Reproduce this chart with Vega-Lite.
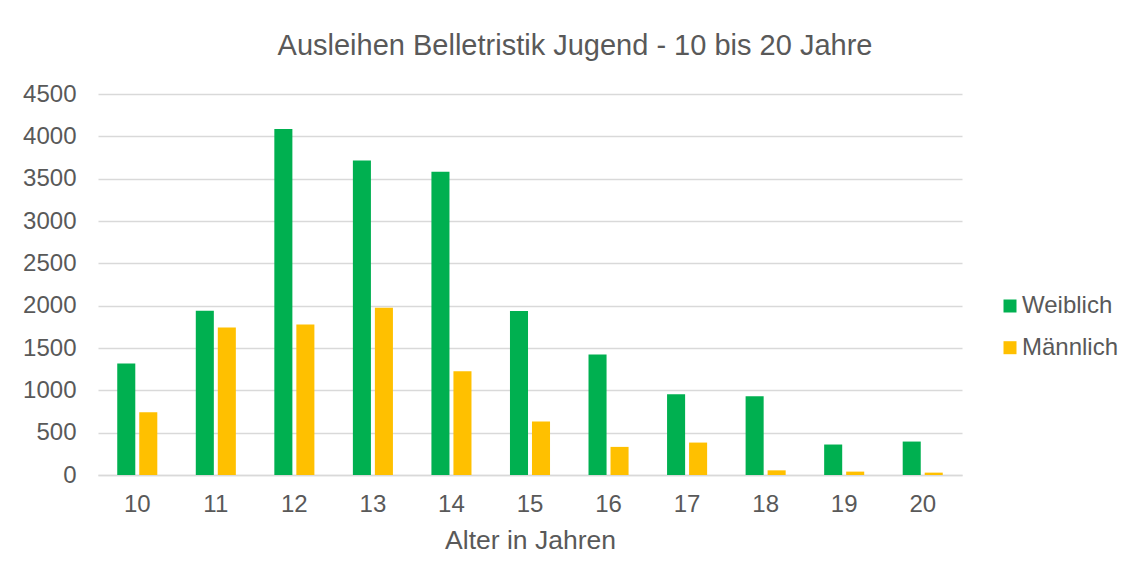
{
  "$schema": "https://vega.github.io/schema/vega-lite/v6.json",
  "autosize": {"type": "none"},
  "padding": {"left": 98, "top": 94, "right": 170, "bottom": 109},
  "width": 864,
  "height": 381,
  "background": "white",
  "title": {
    "text": "Ausleihen Belletristik Jugend - 10 bis 20 Jahre",
    "anchor": "middle",
    "frame": "group",
    "dx": 45,
    "fontSize": 29,
    "fontWeight": "normal",
    "font": "Liberation Sans",
    "color": "#595959",
    "baseline": "alphabetic",
    "offset": -2
  },
  "data": {
    "values": [
      {"Alter": "10", "Geschlecht": "Weiblich", "Ausleihen": 1316},
      {"Alter": "10", "Geschlecht": "Männlich", "Ausleihen": 741},
      {"Alter": "11", "Geschlecht": "Weiblich", "Ausleihen": 1939},
      {"Alter": "11", "Geschlecht": "Männlich", "Ausleihen": 1742},
      {"Alter": "12", "Geschlecht": "Weiblich", "Ausleihen": 4086},
      {"Alter": "12", "Geschlecht": "Männlich", "Ausleihen": 1777},
      {"Alter": "13", "Geschlecht": "Weiblich", "Ausleihen": 3716},
      {"Alter": "13", "Geschlecht": "Männlich", "Ausleihen": 1974},
      {"Alter": "14", "Geschlecht": "Weiblich", "Ausleihen": 3582},
      {"Alter": "14", "Geschlecht": "Männlich", "Ausleihen": 1225},
      {"Alter": "15", "Geschlecht": "Weiblich", "Ausleihen": 1938},
      {"Alter": "15", "Geschlecht": "Männlich", "Ausleihen": 633},
      {"Alter": "16", "Geschlecht": "Weiblich", "Ausleihen": 1423},
      {"Alter": "16", "Geschlecht": "Männlich", "Ausleihen": 332},
      {"Alter": "17", "Geschlecht": "Weiblich", "Ausleihen": 953},
      {"Alter": "17", "Geschlecht": "Männlich", "Ausleihen": 383},
      {"Alter": "18", "Geschlecht": "Weiblich", "Ausleihen": 929},
      {"Alter": "18", "Geschlecht": "Männlich", "Ausleihen": 55},
      {"Alter": "19", "Geschlecht": "Weiblich", "Ausleihen": 360},
      {"Alter": "19", "Geschlecht": "Männlich", "Ausleihen": 40},
      {"Alter": "20", "Geschlecht": "Weiblich", "Ausleihen": 395},
      {"Alter": "20", "Geschlecht": "Männlich", "Ausleihen": 28}
    ]
  },
  "mark": {"type": "bar"},
  "encoding": {
    "x": {
      "field": "Alter",
      "type": "nominal",
      "sort": null,
      "scale": {"paddingInner": 0.49, "paddingOuter": 0.245},
      "axis": {
        "title": "Alter in Jahren",
        "labelAngle": 0,
        "labelFontSize": 24,
        "labelColor": "#595959",
        "labelFont": "Liberation Sans",
        "labelPadding": 17,
        "ticks": false,
        "domainColor": "#D9D9D9",
        "domainWidth": 1.3,
        "titleFontSize": 26.5,
        "titleFontWeight": "normal",
        "titleColor": "#595959",
        "titleFont": "Liberation Sans",
        "titleBaseline": "alphabetic",
        "titleY": 73
      }
    },
    "xOffset": {
      "field": "Geschlecht",
      "type": "nominal",
      "sort": ["Weiblich", "Männlich"],
      "scale": {"paddingInner": 0.18, "paddingOuter": 0}
    },
    "y": {
      "field": "Ausleihen",
      "type": "quantitative",
      "scale": {"domain": [0, 4500], "nice": false},
      "axis": {
        "title": null,
        "format": "d",
        "values": [0, 500, 1000, 1500, 2000, 2500, 3000, 3500, 4000, 4500],
        "labelFontSize": 24,
        "labelColor": "#595959",
        "labelFont": "Liberation Sans",
        "labelPadding": 22,
        "ticks": false,
        "domain": false,
        "gridColor": "#D9D9D9",
        "gridWidth": 1.3
      }
    },
    "color": {
      "field": "Geschlecht",
      "type": "nominal",
      "sort": ["Weiblich", "Männlich"],
      "scale": {"domain": ["Weiblich", "Männlich"], "range": ["#00B050", "#FFC000"]},
      "legend": {
        "title": null,
        "orient": "none",
        "legendX": 900,
        "legendY": 200,
        "padding": 0,
        "symbolType": "square",
        "symbolSize": 169,
        "symbolStrokeWidth": 0,
        "labelFontSize": 24,
        "labelColor": "#595959",
        "labelFont": "Liberation Sans",
        "labelOffset": 0,
        "rowPadding": 17.7
      }
    }
  },
  "config": {
    "view": {"stroke": null},
    "font": "Liberation Sans"
  }
}
